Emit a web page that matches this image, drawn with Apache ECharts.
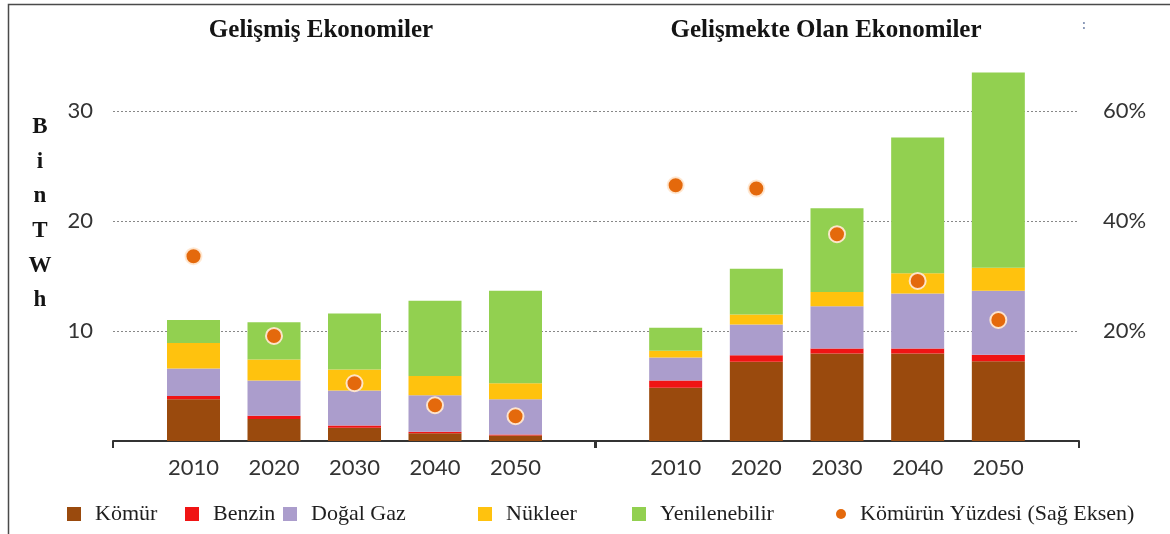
<!DOCTYPE html>
<html>
<head>
<meta charset="utf-8">
<script src="https://cdn.jsdelivr.net/npm/echarts@6/dist/echarts.min.js"></script>
<style>
  html, body { margin: 0; padding: 0; background: #ffffff; }
  #chart { width: 1170px; height: 534px; }
</style>
</head>
<body>
<div id="chart"></div>
<script>
// Yıllar (x ekseni)
const years = ['2010', '2020', '2030', '2040', '2050'];

// Gelişmiş ekonomiler — üretim, bin TWh
const devCoal    = [3.8, 2.0, 1.2, 0.7, 0.5];
const devOil     = [0.3, 0.3, 0.2, 0.15, 0.1];
const devGas     = [2.5, 3.2, 3.2, 3.3, 3.2];
const devNuclear = [2.3, 1.9, 1.9, 1.75, 1.45];
const devRenew   = [2.1, 3.4, 5.1, 6.85, 8.4];
const devCoalShare = [33.6, 19.1, 10.5, 6.5, 4.5];   // %

// Gelişmekte olan ekonomiler — üretim, bin TWh
const emCoal    = [4.85, 7.2, 7.95, 7.95, 7.25];
const emOil     = [0.65, 0.6, 0.45, 0.45, 0.6];
const emGas     = [2.1, 2.8, 3.85, 5.0, 5.8];
const emNuclear = [0.6, 0.9, 1.3, 1.85, 2.1];
const emRenew   = [2.1, 4.15, 7.6, 12.35, 17.75];
const emCoalShare = [46.5, 45.9, 37.6, 29.1, 22.0];  // %

// Eksen etiketleri
const valueTicks = ['10', '20', '30'];
const shareTicks = ['20%', '40%', '60%'];

const panelTitles = ['Gelişmiş Ekonomiler', 'Gelişmekte Olan Ekonomiler'];
const sourceNames = ['Kömür', 'Benzin', 'Doğal Gaz', 'Nükleer', 'Yenilenebilir'];
const shareName = 'Kömürün Yüzdesi (Sağ Eksen)';
const unitLabel = 'BinTWh';

const colors = {
  'Kömür': '#9a4a0d',
  'Benzin': '#f01414',
  'Doğal Gaz': '#ab9dcc',
  'Nükleer': '#ffc20e',
  'Yenilenebilir': '#92d050'
};
const dotColor = '#e4690c';

const sansFont = 'Lato, "Open Sans", sans-serif';
const serifFont = '"Liberation Serif", "DejaVu Serif", serif';
const tickColor = '#333333';

const chart = echarts.init(document.getElementById('chart'), null, { renderer: 'canvas' });

// Each panel's axis has an empty slot on both sides of the five years,
// so the bars sit between the end ticks of the axis line.
const axisCategories = [''].concat(years, ['']);

function pairs(values) {
  return values.map((v, i) => [years[i], v]);
}

function xAxisFor(gridIndex) {
  const last = axisCategories.length - 1;
  return {
    type: 'category', gridIndex,
    data: axisCategories,
    boundaryGap: false,
    axisLine: { show: true, onZero: false, lineStyle: { color: '#333333', width: 2 } },
    axisTick: { show: true, interval: (i) => i === 0 || i === last, length: 7,
      lineStyle: { color: '#333333', width: 2 } },
    axisLabel: { interval: 0, fontFamily: sansFont, fontSize: 22, color: tickColor, margin: 16 },
    splitLine: { show: false }
  };
}

const gridLine = { lineStyle: { type: [2, 2], color: '#888888', width: 1 } };

function barSeries(prefix, gridIndex, arrays) {
  return sourceNames.map((name, k) => ({
    name, type: 'bar', stack: prefix,
    xAxisIndex: gridIndex, yAxisIndex: gridIndex === 0 ? 0 : 2,
    barWidth: 53, clip: false,
    itemStyle: { color: colors[name] },
    emphasis: { disabled: true },
    data: pairs(arrays[k]),
    z: 2
  }));
}

function shareSeries(gridIndex, values) {
  return {
    name: shareName, type: 'scatter',
    xAxisIndex: gridIndex, yAxisIndex: gridIndex === 0 ? 1 : 3,
    symbolSize: 16,
    itemStyle: { color: dotColor, borderColor: 'rgba(255,232,210,0.95)', borderWidth: 2, opacity: 1 },
    emphasis: { disabled: true },
    data: pairs(values),
    z: 5
  };
}

function legendItem(name, left, icon, w, h) {
  return {
    data: [{ name, itemStyle: { borderWidth: 0 } }],
    left, top: 503,
    padding: 0, itemGap: 0,
    icon, itemWidth: w, itemHeight: h,
    selectedMode: false,
    textStyle: { fontFamily: serifFont, fontSize: 22, color: '#1e1e1e', padding: [0, 0, 0, 9] }
  };
}

const option = {
  backgroundColor: '#ffffff',
  animation: false,
  graphic: [{
    type: 'rect', silent: true,
    shape: { x: 8.5, y: 4.5, width: 2000, height: 2000 },
    style: { fill: null, stroke: '#4a4a4a', lineWidth: 1.5 }
  }],
  title: [
    { text: panelTitles[0], left: 321, top: 18, textAlign: 'center', padding: 0,
      textStyle: { fontFamily: serifFont, fontWeight: 'bold', fontSize: 25, color: '#141414' } },
    { text: panelTitles[1], left: 826, top: 18, textAlign: 'center', padding: 0,
      textStyle: { fontFamily: serifFont, fontWeight: 'bold', fontSize: 25, color: '#141414' } },
    { text: unitLabel.split('').join('\n'), left: 40, top: 110, textAlign: 'center', padding: 0,
      textStyle: { fontFamily: serifFont, fontWeight: 'bold', fontSize: 23, lineHeight: 34.6, color: '#141414' } },
    { text: ':', left: 1084, top: 18, textAlign: 'center', padding: 0,
      textStyle: { fontFamily: sansFont, fontSize: 13, color: '#7d8db0' } }
  ],
  legend: [
    legendItem('Kömür', 67, 'rect', 14, 14),
    legendItem('Benzin', 185, 'rect', 14, 14),
    legendItem('Doğal Gaz', 283, 'rect', 14, 14),
    legendItem('Nükleer', 478, 'rect', 14, 14),
    legendItem('Yenilenebilir', 632, 'rect', 14, 14),
    legendItem(shareName, 836, 'circle', 10, 12)
  ],
  grid: [
    { left: 113, top: 111, width: 483, height: 330 },
    { left: 595, top: 111, width: 484, height: 330 }
  ],
  xAxis: [xAxisFor(0), xAxisFor(1)],
  yAxis: [
    { type: 'value', gridIndex: 0, position: 'left', min: 0, max: 30, interval: 10,
      axisLine: { show: false }, axisTick: { show: false },
      axisLabel: { formatter: v => (valueTicks.includes(String(v)) ? String(v) : ''),
        fontFamily: sansFont, fontSize: 22, color: tickColor, margin: 20 },
      splitLine: gridLine },
    { type: 'value', gridIndex: 0, min: 0, max: 60, show: false, splitLine: { show: false } },
    { type: 'value', gridIndex: 1, position: 'left', min: 0, max: 30, interval: 10,
      axisLine: { show: false }, axisTick: { show: false }, axisLabel: { show: false },
      splitLine: gridLine },
    { type: 'value', gridIndex: 1, position: 'right', min: 0, max: 60, interval: 20,
      axisLine: { show: false }, axisTick: { show: false },
      axisLabel: { formatter: v => (shareTicks.includes(v + '%') ? v + '%' : ''),
        fontFamily: sansFont, fontSize: 22, color: tickColor, margin: 24 },
      splitLine: { show: false } }
  ],
  series: [
    ...barSeries('dev', 0, [devCoal, devOil, devGas, devNuclear, devRenew]),
    ...barSeries('em', 1, [emCoal, emOil, emGas, emNuclear, emRenew]),
    shareSeries(0, devCoalShare),
    shareSeries(1, emCoalShare)
  ]
};

chart.setOption(option);
</script>
</body>
</html>
